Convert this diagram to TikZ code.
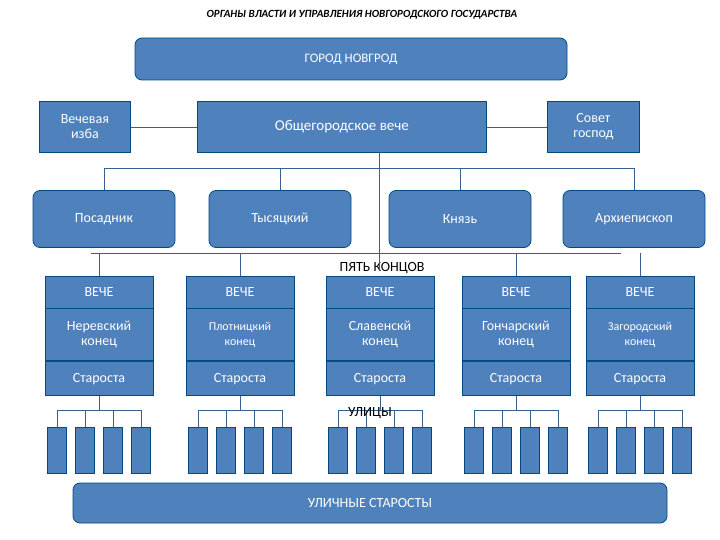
\documentclass[tikz,border=0pt]{standalone}
\usepackage{fontspec}
\setmainfont{Carlito}
\begin{document}
\begin{tikzpicture}[x=1pt,y=-1pt,
  box/.style={draw=blue!30!black!70!cyan,fill=myblue,line width=0.8pt,text=white,align=center,inner sep=0pt,font=\fontsize{14}{15}\selectfont},
  rbox/.style={box,rounded corners=7pt},
  cell/.style={box,minimum width=108pt},
  street/.style={box,minimum width=19pt,minimum height=46pt},
  ln/.style={draw=linecol,line width=0.7pt}]
\definecolor{myblue}{HTML}{4F81BD}
\definecolor{linecol}{HTML}{3A5F8F}
\useasboundingbox (0,0) rectangle (720,540);
\node[font=\bfseries\itshape\fontsize{11}{12}\selectfont] (title) at (362,15) {ОРГАНЫ ВЛАСТИ И УПРАВЛЕНИЯ НОВГОРОДСКОГО ГОСУДАРСТВА};
\node[rbox,minimum width=432pt,minimum height=42pt,font=\fontsize{13}{14}\selectfont] (gorod) at (351,59) {ГОРОД НОВГРОД};
\node[box,minimum width=91pt,minimum height=51pt,anchor=north west,text width=91pt] (izba) at (39,101) {Вечевая\\изба};
\node[box,minimum width=289pt,minimum height=51pt,anchor=north west,font=\fontsize{15}{16}\selectfont] (veche) at (197,101) {Общегородское вече};
\node[box,minimum width=92pt,minimum height=51pt,anchor=north west,text width=92pt] (sovet) at (547,101) {Совет\\господ};
\draw[ln] (izba) -- (veche); \draw[ln] (veche) -- (sovet);
\foreach \n/\x/\t in {pos/104/Посадник,tys/280/Тысяцкий,kn/460/Князь,arh/634/Архиепископ}
  \node[rbox,minimum width=142pt,minimum height=57pt] (\n) at (\x,219) {\t};
\coordinate (b1) at (104,168); \coordinate (b2) at (634,168);
\draw[ln] (b1) -- (b2);
\foreach \n in {pos,tys,kn,arh} \draw[ln] (\n.north |- b1) -- (\n.north);
\node[font=\fontsize{14}{15}\selectfont,inner sep=0pt] (pyat) at (382,268) {ПЯТЬ КОНЦОВ};
\coordinate (vtop) at (379,152);
\draw[ln] (vtop) -- (379,270);
\coordinate (c1) at (91,253); \coordinate (c2) at (621,253);
\draw[ln] (c1) -- (c2);
\foreach \i/\x/\nm in {1/99/{Неревский\\конец},2/240/{\fontsize{12}{14}\selectfont Плотницкий\\\fontsize{12}{14}\selectfont конец},3/380/{Славенскй\\конец},4/516/{Гончарский\\конец},5/640/{\fontsize{12}{14}\selectfont Загородский\\\fontsize{12}{14}\selectfont конец}}{
  \node[cell,minimum height=32pt] (v\i) at (\x,292) {ВЕЧЕ};
  \node[cell,minimum height=52pt,anchor=north] (n\i) at (v\i.south) {\nm};
  \node[cell,minimum height=34pt,anchor=north] (s\i) at (n\i.south) {Староста};
  \foreach \k/\o in {a/-42,b/-14,c/14,d/42}
    \node[street] (st\i\k) at (\x+\o,450) {};
  \coordinate (h\i) at (\x,410);
  \draw[ln] (s\i.south) -- (h\i);
  \draw[ln] (st\i a.north |- h\i) -- (st\i d.north |- h\i);
  \foreach \k in {a,b,c,d} \draw[ln] (st\i\k.north |- h\i) -- (st\i\k.north);
}
\foreach \i in {1,2,4,5} \draw[ln] (v\i.north |- c1) -- (v\i.north);
\node[font=\fontsize{14}{15}\selectfont,inner sep=0pt] (ulicy) at (370,413) {УЛИЦЫ};
\node[rbox,minimum width=594pt,minimum height=40pt] (ul) at (370,503) {УЛИЧНЫЕ СТАРОСТЫ};
\end{tikzpicture}
\end{document}
